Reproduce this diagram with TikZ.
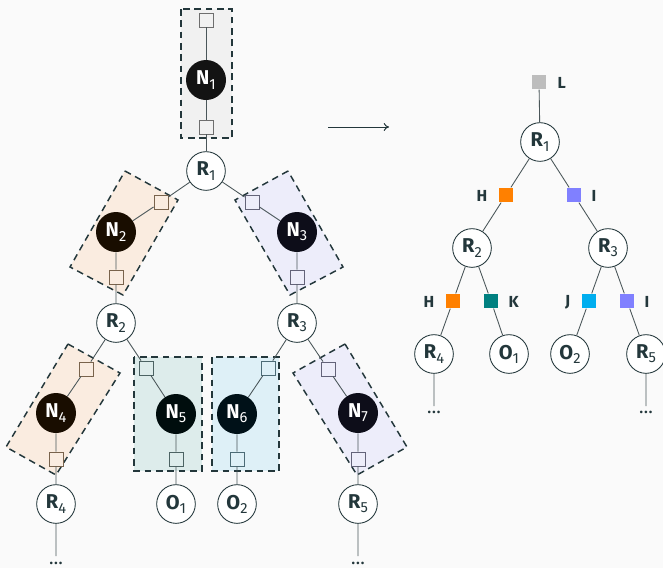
\documentclass[tikz,border=0pt]{standalone}
\usepackage{fontspec}
\setmainfont{Fira Sans}
\usetikzlibrary{arrows.meta}

% palette
\definecolor{bgc}{HTML}{FAFAFA}
\definecolor{ink}{HTML}{23373B}
\definecolor{wire}{HTML}{4A5659}
\definecolor{cL}{HTML}{BDBDBD}
\definecolor{cH}{HTML}{FF8000}
\definecolor{cI}{HTML}{8080FF}
\definecolor{cK}{HTML}{008080}
\definecolor{cJ}{HTML}{00AEEF}
\definecolor{boxL}{HTML}{F1F1F1}
\definecolor{boxH}{HTML}{FAECE0}
\definecolor{boxI}{HTML}{EDEDFA}
\definecolor{boxK}{HTML}{DDECEB}
\definecolor{boxJ}{HTML}{DEF0F7}

\newcommand{\sub}[2]{\textbf{#1}\raisebox{-0.4ex}{\fontsize{11}{11}\selectfont #2}}

\tikzset{
  every node/.style={text=ink},
  wirestyle/.style={draw=wire, line width=0.65pt},
  rnode/.style={circle, draw=ink, fill=white, line width=0.65pt, minimum size=29pt, inner sep=0pt, font=\fontsize{15}{15}\selectfont},
  nnode/.style={circle, fill=#1!10!black, minimum size=30pt, inner sep=0pt, text=white, font=\fontsize{15}{15}\selectfont},
  port/.style={rectangle, draw=#1!25!black!70, line width=0.65pt, minimum size=10.5pt, inner sep=0pt},
  tag/.style={rectangle, fill=#1, minimum size=11pt, inner sep=0pt},
  tagtext/.style={font=\bfseries\fontsize{12}{12}\selectfont, text=ink},
  dotsnode/.style={font=\fontsize{14}{14}\selectfont, inner sep=0pt},
  groupbox/.style={fill=#1, draw=ink, line width=1.1pt, dash pattern=on 5pt off 3.5pt},
}

\begin{document}
\begin{tikzpicture}[x=0.75pt, y=-0.75pt]
\fill[bgc] (0,0) rectangle (663,568);
\useasboundingbox (0,0) rectangle (663,568);

% ---------- group boxes ----------
\draw[groupbox=boxL] (181,9) rectangle (232,138);
\draw[groupbox=boxH] (125,171) -- (178,200) -- (123,295) -- (70,267) -- cycle;
\draw[groupbox=boxI] (288,171) -- (235,200) -- (290,295) -- (343,267) -- cycle;
\draw[groupbox=boxH] (68,344) -- (120,373) -- (56,475) -- (6,447) -- cycle;
\draw[groupbox=boxI] (345,344) -- (293,373) -- (357,475) -- (407,447) -- cycle;
\draw[groupbox=boxK] (134,357) rectangle (202,471);
\draw[groupbox=boxJ] (212,357) rectangle (279,471);

% ---------- left tree ----------
\node[port=cL] (p1t) at (206,20) {};
\node[nnode=cL] (N1) at (206,80) {\sub{N}{1}};
\node[port=cL] (p1b) at (206,127) {};
\node[rnode] (R1) at (206,171) {\sub{R}{1}};

\node[port=cH] (p2t) at (161,202) {};
\node[nnode=cH] (N2) at (116,232) {\sub{N}{2}};
\node[port=cH] (p2b) at (116,277) {};
\node[rnode] (R2) at (116,323) {\sub{R}{2}};

\node[port=cI] (p3t) at (252,202) {};
\node[nnode=cI] (N3) at (297,232) {\sub{N}{3}};
\node[port=cI] (p3b) at (297,277) {};
\node[rnode] (R3) at (297,323) {\sub{R}{3}};

\node[port=cH] (p4t) at (86,369) {};
\node[nnode=cH] (N4) at (56,413) {\sub{N}{4}};
\node[port=cH] (p4b) at (56,459) {};
\node[rnode] (R4) at (56,504) {\sub{R}{4}};
\coordinate (e4) at (56,556);
\node[dotsnode] (d4) at (56,563) {\dots};

\node[port=cK] (p5t) at (146,368) {};
\node[nnode=cK] (N5) at (176,414) {\sub{N}{5}};
\node[port=cK] (p5b) at (176,459) {};
\node[rnode] (O1) at (176,504) {\sub{O}{1}};

\node[port=cJ] (p6t) at (268,368) {};
\node[nnode=cJ] (N6) at (237,414) {\sub{N}{6}};
\node[port=cJ] (p6b) at (237,459) {};
\node[rnode] (O2) at (237,504) {\sub{O}{2}};

\node[port=cI] (p7t) at (328,369) {};
\node[nnode=cI] (N7) at (358,413) {\sub{N}{7}};
\node[port=cI] (p7b) at (358,459) {};
\node[rnode] (R5) at (358,504) {\sub{R}{5}};
\coordinate (e5) at (358,556);
\node[dotsnode] (d5) at (358,563) {\dots};

\draw[wirestyle] (p1t) -- (N1) -- (p1b) -- (R1);
\draw[wirestyle] (R1) -- (p2t) -- (N2) -- (p2b) -- (R2);
\draw[wirestyle] (R1) -- (p3t) -- (N3) -- (p3b) -- (R3);
\draw[wirestyle] (R2) -- (p4t) -- (N4) -- (p4b) -- (R4) -- (e4);
\draw[wirestyle] (R2) -- (p5t) -- (N5) -- (p5b) -- (O1);
\draw[wirestyle] (R3) -- (p6t) -- (N6) -- (p6b) -- (O2);
\draw[wirestyle] (R3) -- (p7t) -- (N7) -- (p7b) -- (R5) -- (e5);

% ---------- arrow ----------
\coordinate (a0) at (328,127);
\coordinate (a1) at (389,127);
\draw[draw=ink, line width=0.75pt, -{To[length=4pt,width=6pt]}] (a0) -- (a1);

% ---------- right tree ----------
\node[tag=cL] (tL) at (539,82) {};
\node[tagtext, anchor=west] (lL) at (553,83) {L};
\node[rnode] (S1) at (540,142) {\sub{R}{1}};
\node[tag=cH] (tH1) at (506,195) {};
\node[tagtext, anchor=east] (lH1) at (492,196) {H};
\node[tag=cI] (tI1) at (574,195) {};
\node[tagtext, anchor=west] (lI1) at (587,196) {I};
\node[rnode] (S2) at (472,248) {\sub{R}{2}};
\node[rnode] (S3) at (608,248) {\sub{R}{3}};

\node[tag=cH] (tH2) at (453,301) {};
\node[tagtext, anchor=east] (lH2) at (439,302) {H};
\node[tag=cK] (tK) at (491,301) {};
\node[tagtext, anchor=west] (lK) at (504,302) {K};
\node[tag=cJ] (tJ) at (589,301) {};
\node[tagtext, anchor=east] (lJ) at (575,302) {J};
\node[tag=cI] (tI2) at (627,301) {};
\node[tagtext, anchor=west] (lI2) at (640,302) {I};

\node[rnode] (S4) at (434,354) {\sub{R}{4}};
\node[rnode] (T1) at (509,354) {\sub{O}{1}};
\node[rnode] (T2) at (570,354) {\sub{O}{2}};
\node[rnode] (S5) at (646,354) {\sub{R}{5}};
\coordinate (f4) at (434,406);
\node[dotsnode] (g4) at (434,412) {\dots};
\coordinate (f5) at (646,406);
\node[dotsnode] (g5) at (646,412) {\dots};

\draw[wirestyle] (tL) -- (S1);
\draw[wirestyle] (S1) -- (tH1) -- (S2);
\draw[wirestyle] (S1) -- (tI1) -- (S3);
\draw[wirestyle] (S2) -- (tH2) -- (S4) -- (f4);
\draw[wirestyle] (S2) -- (tK) -- (T1);
\draw[wirestyle] (S3) -- (tJ) -- (T2);
\draw[wirestyle] (S3) -- (tI2) -- (S5) -- (f5);
\end{tikzpicture}
\end{document}
